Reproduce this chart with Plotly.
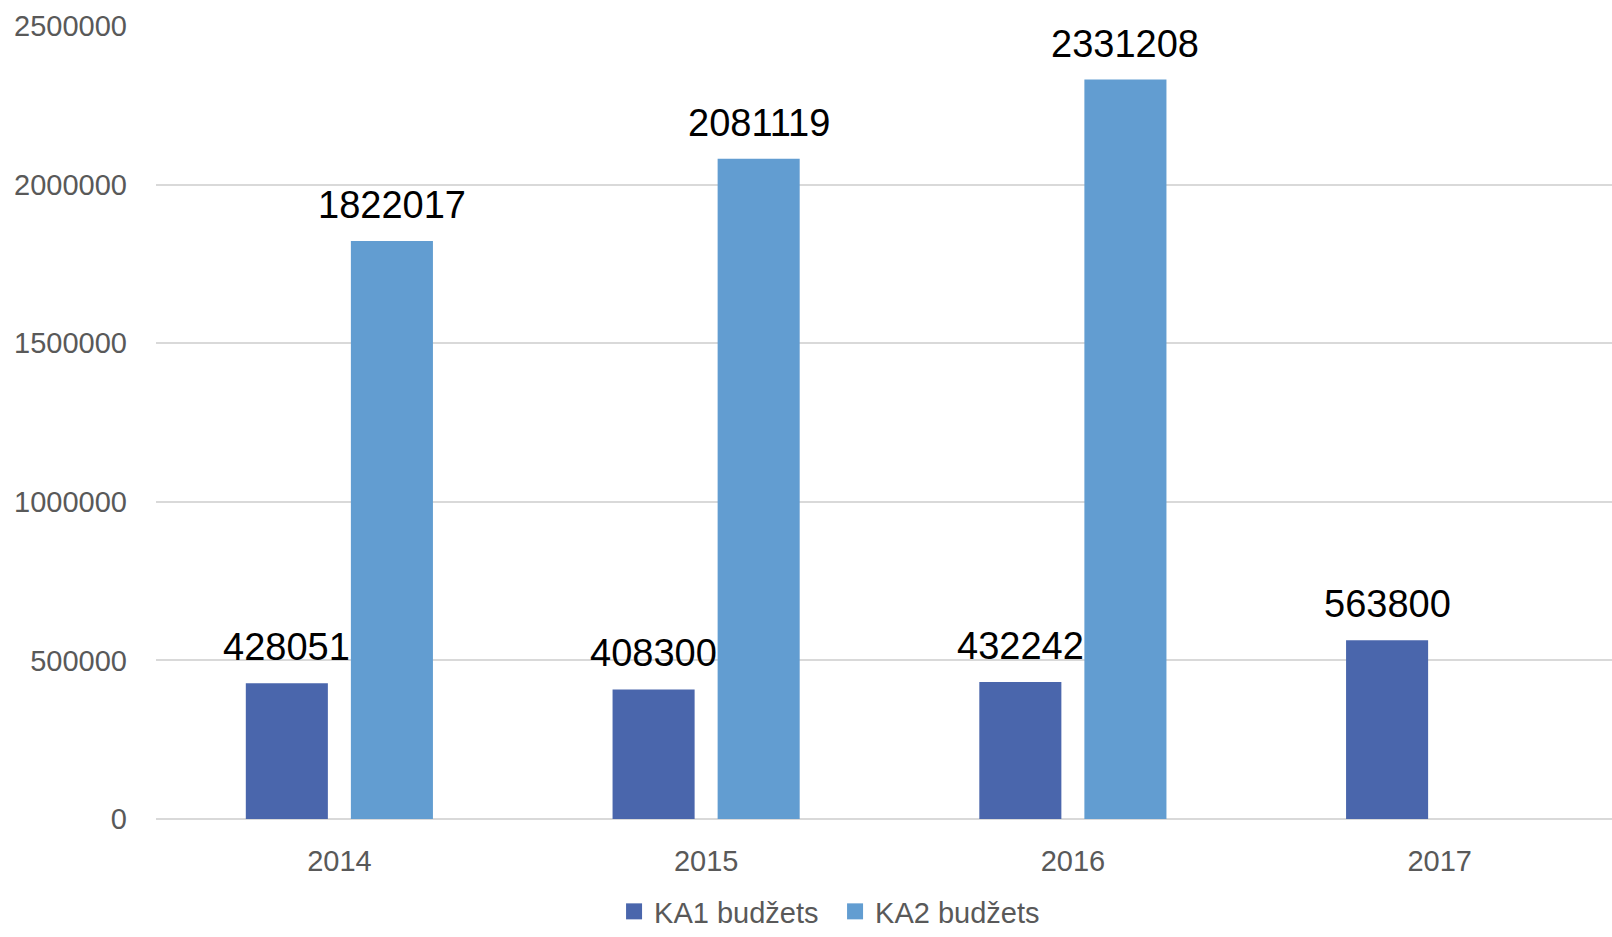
import plotly.graph_objects as go

years = ["2014", "2015", "2016", "2017"]
ka1 = [428051, 408300, 432242, 563800]
ka2 = [1822017, 2081119, 2331208, None]
series_names = ["KA1 budžets", "KA2 budžets"]
colors = ["#4A66AC", "#629DD1"]
y_ticks = [0, 500000, 1000000, 1500000, 2000000, 2500000]

W, H = 1612, 937
ML, MR, MT, MB = 156, 0, 25, 118
x_range = [-0.5, 3.47]
bargap, bargroupgap = 0.427, 0.219
unit_px = (W - ML - MR) / (x_range[1] - x_range[0])
slot_px = (1 - bargap) * unit_px / 2

fig = go.Figure()
for name, vals, col in zip(series_names, [ka1, ka2], colors):
    fig.add_trace(go.Bar(x=years, y=vals, name=name, marker=dict(color=col, line=dict(width=0)),
                         showlegend=False))
    # legend proxy with larger square symbol
    fig.add_trace(go.Scatter(x=[None], y=[None], mode="markers", name=name,
                             marker=dict(symbol="square", size=17, color=col)))

annotations = []
for k, vals in enumerate([ka1, ka2]):
    shift = (k - 0.5) * slot_px
    for i, v in enumerate(vals):
        if v is None:
            continue
        annotations.append(dict(x=i, y=v, xref="x", yref="y", text=str(v), showarrow=False,
                                xanchor="center", yanchor="bottom", xshift=shift, yshift=13,
                                font=dict(family="Liberation Sans", size=38, color="#000000")))

fig.update_layout(
    width=W, height=H,
    margin=dict(l=ML, r=MR, t=MT, b=MB),
    paper_bgcolor="white", plot_bgcolor="white",
    barmode="group", bargap=bargap, bargroupgap=bargroupgap,
    font=dict(family="Liberation Sans", size=29, color="#595959"),
    showlegend=True,
    annotations=annotations,
    legend=dict(orientation="h", x=0.3146, xanchor="left", y=-0.0107, yanchor="bottom",
                yref="container",
                font=dict(size=29, color="#595959"), bgcolor="rgba(0,0,0,0)",
                itemwidth=30, entrywidth=176),
    xaxis=dict(type="category", range=x_range, showgrid=False, showline=False, ticks="",
               automargin=False, tickfont=dict(size=29, color="#595959"), ticklabelstandoff=22),
    yaxis=dict(range=[0, 2503000], tickvals=y_ticks, tickformat="d", automargin=False,
               showgrid=True, gridcolor="#D9D9D9", gridwidth=1.5,
               zeroline=True, zerolinecolor="#D9D9D9", zerolinewidth=1.5,
               showline=False, ticks="", ticklabelstandoff=28,
               tickfont=dict(size=29, color="#595959")),
)

fig.write_html("out.html", config={"displayModeBar": False},
               post_script="document.body.style.margin='0px';")
